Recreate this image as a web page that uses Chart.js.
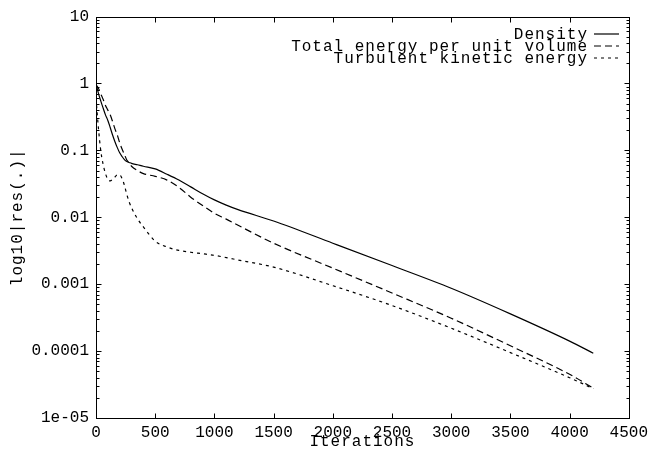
<!DOCTYPE html>
<html>
<head>
<meta charset="utf-8">
<style>
  html, body { margin: 0; padding: 0; background: #fff; }
  canvas { display: block; }
</style>
<script src="https://cdn.jsdelivr.net/npm/chart.js@4.4.0/dist/chart.umd.min.js"></script>
</head>
<body>
<canvas id="residuals" width="653" height="456"></canvas>
<script>
// iterations shared by the three residual histories
var iterations = [0, 20, 40, 60, 80, 100, 120, 140, 160, 180, 200, 220, 240, 260, 280, 300,
                  350, 400, 500, 600, 700, 800, 900, 1000, 1100, 1200, 1500, 2000, 2500, 3000, 3500, 4000, 4200];

var density = [1.0, 0.72, 0.55, 0.43, 0.34, 0.28, 0.22, 0.17, 0.135, 0.11, 0.092, 0.081, 0.073, 0.068, 0.066, 0.064,
               0.061, 0.058, 0.053, 0.044, 0.036, 0.0285, 0.0225, 0.0182, 0.0152, 0.0130, 0.0088, 0.0041, 0.0019, 0.00087, 0.00036, 0.000141, 0.000093];

var totalEnergy = [0.95, 0.85, 0.7, 0.58, 0.47, 0.40, 0.34, 0.27, 0.21, 0.17, 0.13, 0.105, 0.087, 0.072, 0.065, 0.058,
                   0.050, 0.045, 0.041, 0.036, 0.028, 0.020, 0.0150, 0.0115, 0.0094, 0.0076, 0.0041, 0.00174, 0.00074, 0.00031, 0.000120, 0.000045, 0.000028];

var turbulentKE = [0.6, 0.22, 0.10, 0.062, 0.045, 0.037, 0.035, 0.037, 0.040, 0.043, 0.043, 0.038, 0.030, 0.022, 0.017, 0.014,
                   0.0095, 0.0072, 0.0044, 0.0036, 0.0032, 0.0030, 0.00285, 0.0027, 0.0025, 0.0023, 0.0018, 0.00095, 0.00048, 0.00022, 0.000095, 0.00004, 0.0000275];

var seriesNames = ['Density', 'Total energy per unit volume', 'Turbulent kinetic energy'];
var seriesDash = [[], [7, 4], [3, 4]];

var yTickLabels = ['1e-05', '0.0001', '0.001', '0.01', '0.1', '1', '10'];   // decades -5 .. 1

var MONO = '"Liberation Mono", "DejaVu Sans Mono", monospace';

function toPoints(ys) {
    return iterations.map(function (x, i) { return { x: x, y: ys[i] }; });
}

function makeDataset(name, ys, dash) {
    return {
        label: name,
        data: toPoints(ys),
        borderColor: '#000',
        borderWidth: 1.2,
        borderDash: dash,
        pointRadius: 0,
        fill: false,
        cubicInterpolationMode: 'monotone'
    };
}

// frame, inward ticks, legend and axis titles, gnuplot style
var gnuplotFrame = {
    id: 'gnuplotFrame',
    afterDraw: function (chart) {
        var ctx = chart.ctx;
        var a = chart.chartArea;
        var xs = chart.scales.x, ys = chart.scales.y;
        var L = Math.round(a.left) + 0.5, R = Math.round(a.right) + 0.5;
        var T = Math.round(a.top) + 0.5, B = Math.round(a.bottom) + 0.5;

        ctx.save();
        ctx.strokeStyle = '#000';
        ctx.lineWidth = 1;
        ctx.setLineDash([]);
        ctx.strokeRect(L, T, R - L, B - T);

        ctx.beginPath();
        for (var v = 500; v < 4500; v += 500) {
            var px = Math.round(xs.getPixelForValue(v)) + 0.5;
            ctx.moveTo(px, B); ctx.lineTo(px, B - 5);
            ctx.moveTo(px, T); ctx.lineTo(px, T + 5);
        }
        for (var e = -5; e <= 1; e++) {
            for (var m = 1; m <= 9; m++) {
                var val = m * Math.pow(10, e);
                if (val > 10) break;
                var py = Math.round(ys.getPixelForValue(val)) + 0.5;
                var len = m === 1 ? 5 : 3;
                ctx.moveTo(L, py); ctx.lineTo(L + len, py);
                ctx.moveTo(R, py); ctx.lineTo(R - len, py);
            }
        }
        ctx.stroke();

        ctx.fillStyle = '#000';
        ctx.font = '16px ' + MONO;
        ctx.letterSpacing = '1px';

        // legend, text right aligned with line sample after it
        ctx.textAlign = 'right';
        ctx.textBaseline = 'alphabetic';
        for (var i = 0; i < seriesNames.length; i++) {
            var base = 39 + i * 12;
            ctx.fillText(seriesNames[i], 588, base);
            ctx.beginPath();
            ctx.lineWidth = 1.2;
            ctx.setLineDash(seriesDash[i]);
            ctx.moveTo(594, base - 5);
            ctx.lineTo(619, base - 5);
            ctx.stroke();
        }
        ctx.setLineDash([]);

        // axis titles
        ctx.textAlign = 'center';
        ctx.textBaseline = 'middle';
        ctx.fillText('Iterations', (a.left + a.right) / 2, 442);
        ctx.translate(18, (a.top + a.bottom) / 2);
        ctx.rotate(-Math.PI / 2);
        ctx.fillText('log10|res(.)|', 0, 0);
        ctx.restore();
    }
};

window.onload = function () {
    var ctx = document.getElementById('residuals').getContext('2d');
    window.residualChart = new Chart(ctx, {
        type: 'line',
        data: {
            datasets: [
                makeDataset(seriesNames[0], density, seriesDash[0]),
                makeDataset(seriesNames[1], totalEnergy, seriesDash[1]),
                makeDataset(seriesNames[2], turbulentKE, seriesDash[2])
            ]
        },
        options: {
            responsive: false,
            animation: false,
            devicePixelRatio: 1,
            layout: { padding: { left: 0, right: 21, top: 16, bottom: 0 } },
            plugins: {
                legend: { display: false },
                tooltip: { enabled: false }
            },
            scales: {
                x: {
                    type: 'linear',
                    min: 0,
                    max: 4500,
                    grid: { display: false, drawTicks: false },
                    border: { display: false },
                    ticks: {
                        stepSize: 500,
                        maxRotation: 0,
                        autoSkip: false,
                        padding: 5,
                        color: '#000',
                        font: { family: MONO, size: 16 },
                        callback: function (value) { return String(value); }
                    },
                    afterFit: function (s) { s.height = 38; }
                },
                y: {
                    type: 'logarithmic',
                    min: 1e-5,
                    max: 10,
                    grid: { display: false, drawTicks: false },
                    border: { display: false },
                    afterBuildTicks: function (s) {
                        var t = [];
                        for (var e = -5; e <= 1; e++) t.push({ value: Math.pow(10, e) });
                        s.ticks = t;
                    },
                    ticks: {
                        autoSkip: false,
                        padding: 7,
                        color: '#000',
                        font: { family: MONO, size: 16 },
                        callback: function (value) {
                            var e = Math.round(Math.log10(value));
                            return yTickLabels[e + 5];
                        }
                    },
                    afterFit: function (s) { s.width = 96; }
                }
            }
        },
        plugins: [gnuplotFrame]
    });
};
</script>
</body>
</html>
